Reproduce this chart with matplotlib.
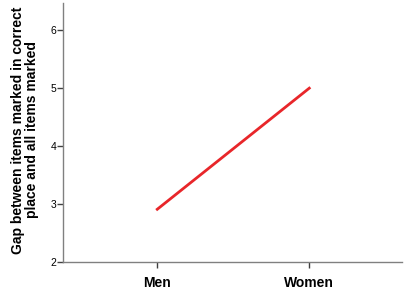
import matplotlib
matplotlib.use("Agg")
import matplotlib.pyplot as plt

groups = ["Men", "Women"]
gap = [2.91, 5.0]
yticks = [2, 3, 4, 5, 6]

plt.rcParams['font.family'] = ['Liberation Sans', 'DejaVu Sans']

fig = plt.figure(figsize=(4.19, 3.0), dpi=100)
ax = fig.add_axes([63/419, 38/300, 339/419, 259/300])

x = list(range(len(groups)))
ax.plot(x, gap, color="#e8262a", linewidth=2)

ax.set_xlim(-0.62, 1.61)
ax.set_ylim(2, 6.47)
ax.set_xticks(x)
ax.set_xticklabels(groups, fontsize=10, fontweight="bold")
ax.set_yticks(yticks)
ax.set_yticklabels([str(t) for t in yticks], fontsize=7.5)

for s in ["top", "right"]:
    ax.spines[s].set_visible(False)
for s in ["left", "bottom"]:
    ax.spines[s].set_color("#808080")
    ax.spines[s].set_linewidth(1)
ax.tick_params(axis="both", direction="out", length=4, color="#404040", width=1)
ax.tick_params(axis="x", pad=6)
ax.tick_params(axis="y", pad=1)

ax.set_ylabel("Gap between items marked in correct\nplace and all items marked",
              fontsize=10, fontweight="bold", linespacing=1.0)
ax.yaxis.set_label_coords(-0.07, 0.51)

fig.savefig("out.png", dpi=100)
